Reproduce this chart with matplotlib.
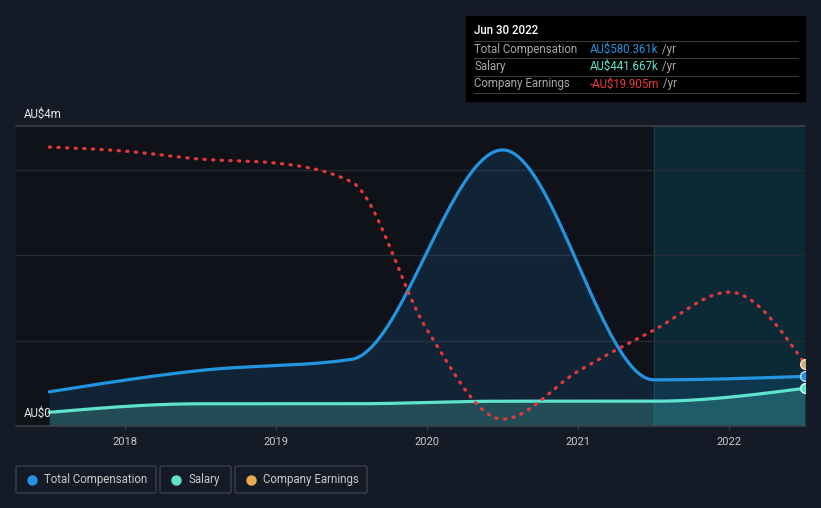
# CEO compensation vs company earnings, dark theme chart
import numpy as np
import matplotlib
matplotlib.use('Agg')
import matplotlib.pyplot as plt
from matplotlib.patches import Rectangle, FancyBboxPatch
from matplotlib.lines import Line2D

plt.rcParams['font.family'] = ['Roboto', 'DejaVu Sans']

# --- Data (AU$ millions, fiscal years ending Jun 30) ---
comp_years = [2017.5, 2018.5, 2019.5, 2020.5, 2021.5, 2022.5]
total_comp = [0.40, 0.65, 0.78, 3.23, 0.54, 0.580361]
salary = [0.16, 0.26, 0.26, 0.29, 0.29, 0.441667]

earn_years = [2017.5, 2018.0, 2018.5, 2019.0, 2019.5, 2020.0, 2020.5, 2021.0, 2021.5, 2022.0, 2022.5]
earnings = [-9.06, -9.26, -9.66, -9.86, -10.80, -18.20, -22.66, -20.26, -18.21, -16.31, -19.905]

year_ticks = [2018, 2019, 2020, 2021, 2022]
forecast_start = 2021.5

W, H = 821, 508
BG = '#151b26'
BLUE = '#2394df'
TEAL = '#5fe3cc'
RED = '#e5383b'
GOLD = '#e9a94f'


def monotone_x(x, y, n=400):
    # same idea as d3.curveMonotoneX, used only to draw the smooth line
    x = np.asarray(x, float)
    y = np.asarray(y, float)
    h = np.diff(x)
    s = np.diff(y) / h
    m = np.zeros(len(x))
    for k in range(1, len(x) - 1):
        p = (s[k - 1] * h[k] + s[k] * h[k - 1]) / (h[k - 1] + h[k])
        m[k] = (np.sign(s[k - 1]) + np.sign(s[k])) * min(abs(s[k - 1]), abs(s[k]), 0.5 * abs(p))
    m[0] = (3 * s[0] - m[1]) / 2 if len(x) > 2 else s[0]
    m[-1] = (3 * s[-1] - m[-2]) / 2 if len(x) > 2 else s[-1]
    xs = np.linspace(x[0], x[-1], n)
    idx = np.clip(np.searchsorted(x, xs, side='right') - 1, 0, len(x) - 2)
    t = (xs - x[idx]) / h[idx]
    h00 = 2 * t**3 - 3 * t**2 + 1
    h10 = t**3 - 2 * t**2 + t
    h01 = -2 * t**3 + 3 * t**2
    h11 = t**3 - t**2
    ys = h00 * y[idx] + h10 * h[idx] * m[idx] + h01 * y[idx + 1] + h11 * h[idx] * m[idx + 1]
    return xs, ys


def fx(px):
    return px / W


def fy(py):
    return 1 - py / H


fig = plt.figure(figsize=(W / 100, H / 100), dpi=100, facecolor=BG)
ax = fig.add_axes([fx(16), fy(426), fx(805) - fx(16), fy(126) - fy(426)])
ax.set_facecolor('#0f1319')
ax.set_xlim(2017.28, 2022.5)
ax.set_ylim(0, 3.51)

# forecast shading
ax.axvspan(forecast_start, 2022.5, color='#0b2a36', zorder=0.5)
ax.axvline(forecast_start, color='#15404c', lw=0.8, zorder=0.6)

for g in [1, 2, 3]:
    ax.axhline(g, color='#262b34', lw=0.9, zorder=0.7)
ax.axhline(3.51, color='#3a3f48', lw=1.2, zorder=0.7, clip_on=False)

tx, ty = monotone_x(comp_years, total_comp)
sx, sy = monotone_x(comp_years, salary)
ax.fill_between(tx, 0, ty, color='#1e7fd0', alpha=0.16, lw=0, zorder=1)
ax.fill_between(sx, 0, sy, color='#5fe3cc', alpha=0.22, lw=0, zorder=1.1)
ax.plot(tx, ty, color=BLUE, lw=2.3, zorder=3, solid_capstyle='round')
ax.plot(sx, sy, color=TEAL, lw=2.3, zorder=3, solid_capstyle='round')
ax.plot(comp_years[-1], total_comp[-1], 'o', ms=7, mfc=BLUE, mec='#bfe3ff', mew=1, zorder=5)
ax.plot(comp_years[-1], salary[-1], 'o', ms=7, mfc=TEAL, mec='#d8fff6', mew=1, zorder=5)

# earnings on its own hidden scale
ax2 = ax.twinx()
ax2.set_ylim(-23.005, -8.005)
ax2.axis('off')
ex, ey = monotone_x(earn_years, earnings)
ax2.plot(ex, ey, color=RED, lw=2.3, linestyle=(0, (0.4, 2.3)), dash_capstyle='round', zorder=4)
ax2.plot(earn_years[-1], earnings[-1], 'o', ms=7, mfc='#c9b27c', mec='#eee3c8', mew=1, zorder=5)

# axes styling
for side in ['top', 'right', 'left']:
    ax.spines[side].set_visible(False)
ax.spines['bottom'].set_color('#3a3f48')
ax.spines['bottom'].set_linewidth(1.2)
ax.set_yticks([])
ax.set_xticks(year_ticks)
ax.set_xticklabels([str(y) for y in year_ticks])
ax.tick_params(axis='x', colors='#3a3f48', labelcolor='#c8c8c8', labelsize=8, length=3, pad=5)

fig.text(fx(24), fy(114), 'AU$4m', color='#e6e6e6', fontsize=8.3, va='center', ha='left')
fig.text(fx(24), fy(413), 'AU$0', color='#e6e6e6', fontsize=8.3, va='center', ha='left')

# tooltip box
fig.add_artist(Rectangle((fx(466), fy(101)), fx(805) - fx(466), fy(16) - fy(101),
                         transform=fig.transFigure, color='#000000', zorder=10))
fig.text(fx(474), fy(31), 'Jun 30 2022', color='white', fontsize=8.3, va='center', zorder=11,
         fontweight='medium')
for ly in [41, 58, 75.5, 93]:
    fig.add_artist(Line2D([fx(474), fx(798)], [fy(ly), fy(ly)], transform=fig.transFigure,
                          color='#3a3a3a', lw=0.8, zorder=11))
rows = [('Total Compensation', 'AU$580.361k', BLUE, 49.5),
        ('Salary', 'AU$441.667k', TEAL, 66.5),
        ('Company Earnings', '-AU$19.905m', '#ee3a3a', 84)]
for label, value, col, ry in rows:
    fig.text(fx(474), fy(ry), label, color='#a8a8a8', fontsize=8.3, va='center', zorder=11)
    t = fig.text(fx(590), fy(ry), value, color=col, fontsize=8.3, va='center', zorder=11)
    fig.add_artist(plt.Annotation(' /yr', xy=(1, 0.5), xycoords=t, va='center', ha='left',
                                  color='#a8a8a8', fontsize=8.3, zorder=11))

# legend boxes
legend_items = [('Total Compensation', BLUE, 16, 156),
                ('Salary', TEAL, 160, 231),
                ('Company Earnings', GOLD, 235, 367)]
for name, col, x0, x1 in legend_items:
    fig.add_artist(FancyBboxPatch((fx(x0), fy(493)), fx(x1) - fx(x0), fy(466) - fy(493),
                                  boxstyle='round,pad=0,rounding_size=0.003',
                                  transform=fig.transFigure, facecolor='none',
                                  edgecolor='#3a3f4a', lw=1))
    fig.add_artist(Line2D([fx(x0 + 16)], [fy(479.5)], transform=fig.transFigure, marker='o',
                          ms=6.5, color=col, lw=0))
    fig.text(fx(x0 + 28), fy(479.5), name, color='#c8c8c8', fontsize=8.3, va='center')

fig.savefig('out.png', dpi=100, facecolor=BG)
